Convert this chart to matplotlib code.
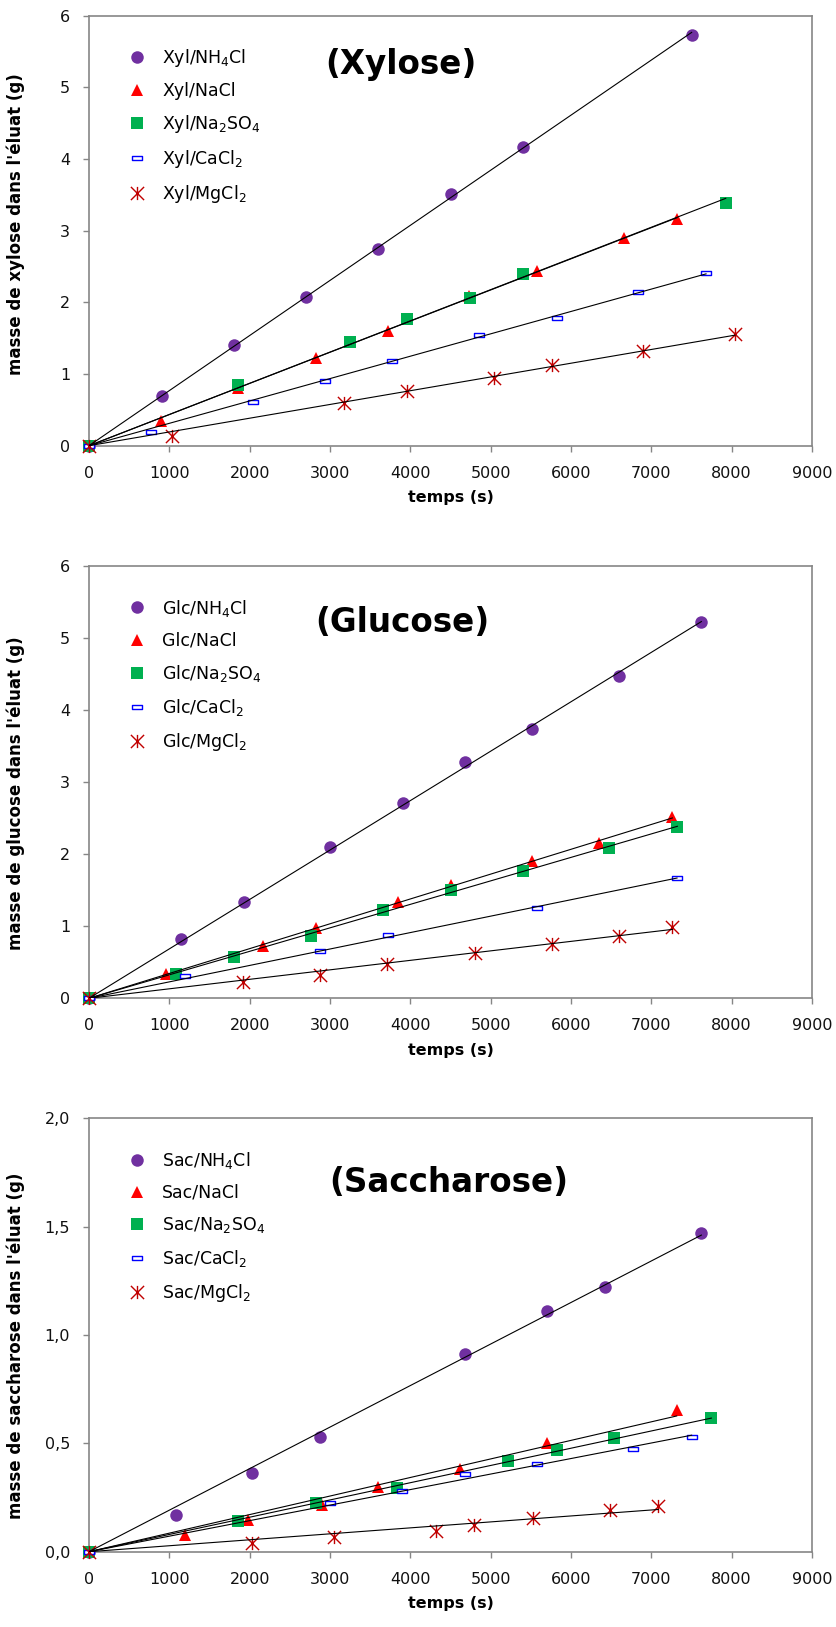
import numpy as np
import matplotlib
matplotlib.use('Agg')
import matplotlib.pyplot as plt
from matplotlib.path import Path

plt.rcParams['font.family'] = ['DejaVu Sans']
plt.rcParams['mathtext.default'] = 'regular'

# temps (s) / masse (g) par sel -- xylose
xyl_nh4cl_t = [0, 905, 1809, 2697, 3602, 4503, 5399, 7502]
xyl_nh4cl_m = [0, 0.70, 1.41, 2.07, 2.75, 3.51, 4.16, 5.73]
xyl_nacl_t = [0, 900, 1850, 2822, 3718, 4735, 5573, 6660, 7320]
xyl_nacl_m = [0, 0.34, 0.80, 1.23, 1.60, 2.09, 2.44, 2.89, 3.16]
xyl_na2so4_t = [0, 1859, 3245, 3963, 4743, 5399, 7926]
xyl_na2so4_m = [0, 0.84, 1.45, 1.77, 2.06, 2.39, 3.38]
xyl_cacl2_t = [0, 772, 2037, 2938, 3772, 4855, 5822, 6838, 7681]
xyl_cacl2_m = [0, 0.195, 0.61, 0.90, 1.18, 1.54, 1.78, 2.15, 2.41]
xyl_mgcl2_t = [0, 1029, 3178, 3955, 5042, 5759, 6900, 8042]
xyl_mgcl2_m = [0, 0.14, 0.60, 0.76, 0.94, 1.12, 1.32, 1.56]

# glucose
glc_nh4cl_t = [0, 1141, 1934, 3000, 3913, 4681, 5519, 6598, 7623]
glc_nh4cl_m = [0, 0.82, 1.34, 2.10, 2.71, 3.28, 3.74, 4.48, 5.22]
glc_nacl_t = [0, 955, 2162, 2826, 3842, 4503, 5519, 6353, 7262]
glc_nacl_m = [0, 0.34, 0.73, 0.98, 1.33, 1.57, 1.91, 2.16, 2.51]
glc_na2so4_t = [0, 1079, 1809, 2760, 3656, 4503, 5399, 6478, 7324]
glc_na2so4_m = [0, 0.34, 0.58, 0.87, 1.22, 1.50, 1.77, 2.09, 2.38]
glc_cacl2_t = [0, 1195, 2876, 3718, 5573, 7320]
glc_cacl2_m = [0, 0.31, 0.65, 0.88, 1.25, 1.665]
glc_mgcl2_t = [0, 1921, 2876, 3714, 4801, 5759, 6598, 7262]
glc_mgcl2_m = [0, 0.23, 0.33, 0.48, 0.63, 0.76, 0.865, 0.99]

# saccharose
sac_nh4cl_t = [0, 1083, 2033, 2876, 4681, 5698, 6428, 7623]
sac_nh4cl_m = [0, 0.168, 0.361, 0.527, 0.914, 1.11, 1.22, 1.47]
sac_nacl_t = [0, 1199, 1983, 2897, 3602, 4618, 5698, 7316]
sac_nacl_m = [0, 0.077, 0.146, 0.215, 0.30, 0.38, 0.502, 0.653]
sac_na2so4_t = [0, 1859, 2822, 3839, 5220, 5822, 6535, 7747]
sac_na2so4_m = [0, 0.143, 0.223, 0.292, 0.418, 0.469, 0.525, 0.615]
sac_cacl2_t = [0, 3000, 3892, 4681, 5573, 6768, 7502]
sac_cacl2_m = [0, 0.223, 0.28, 0.358, 0.404, 0.472, 0.528]
sac_mgcl2_t = [0, 2033, 3054, 4320, 4797, 5523, 6486, 7087]
sac_mgcl2_m = [0, 0.041, 0.069, 0.095, 0.123, 0.154, 0.192, 0.212]

sels = ['NH$_4$Cl', 'NaCl', 'Na$_2$SO$_4$', 'CaCl$_2$', 'MgCl$_2$']
x_ticks = [0, 1000, 2000, 3000, 4000, 5000, 6000, 7000, 8000, 9000]
y_ticks_xg = [0, 1, 2, 3, 4, 5, 6]
y_labels_xg = ['0', '1', '2', '3', '4', '5', '6']
y_ticks_sac = [0, 0.5, 1.0, 1.5, 2.0]
y_labels_sac = ['0,0', '0,5', '1,0', '1,5', '2,0']

# marqueurs style tableur
rect_mk = Path([(-1, -0.45), (1, -0.45), (1, 0.45), (-1, 0.45), (-1, -0.45)],
               [Path.MOVETO, Path.LINETO, Path.LINETO, Path.LINETO, Path.CLOSEPOLY])
star_mk = Path([(-1, -1), (1, 1), (-1, 1), (1, -1), (0, -1), (0, 1)],
               [Path.MOVETO, Path.LINETO, Path.MOVETO, Path.LINETO, Path.MOVETO, Path.LINETO])
styles = [
    dict(marker='o', mec='#7030A0', mfc='#7030A0', ms=9, mew=0),
    dict(marker='^', mec='#FF0000', mfc='#FF0000', ms=9, mew=0),
    dict(marker='s', mec='#00B050', mfc='#00B050', ms=8.3, mew=0),
    dict(marker=rect_mk, mec='#0000FF', mfc='white', ms=6.5, mew=1.0),
    dict(marker=star_mk, mec='#C00000', ms=9.5, mew=1.0, fillstyle='none'),
]

W, H = 837, 1627
fig = plt.figure(figsize=(W / 100, H / 100), dpi=100)
gris = '#868686'


def panel(top, bottom, prefix, series, title, title_xy, ylabel, ylab_y,
          yticks, ylabels, ymax):
    ax = fig.add_axes([89 / W, 1 - bottom / H, (812 - 89) / W, (bottom - top) / H])
    handles = []
    for (t, m), sel, st in zip(series, sels, styles):
        t = np.array(t, float)
        m = np.array(m, float)
        h, = ax.plot(t, m, linestyle='none', zorder=2, clip_on=False, **st)
        handles.append(h)
        # droite de tendance passant par l'origine
        pente = np.sum(t * m) / np.sum(t * t)
        tt = np.array([0, t.max()])
        ax.plot(tt, pente * tt, color='black', lw=0.8, zorder=3)
    ax.set_xlim(0, 9000)
    ax.set_ylim(0, ymax)
    ax.set_xticks(x_ticks)
    ax.set_xticklabels([str(v) for v in x_ticks])
    ax.set_yticks(yticks)
    ax.set_yticklabels(ylabels)
    for s in ax.spines.values():
        s.set_color(gris)
        s.set_linewidth(1.2)
        s.set_zorder(1)
    ax.tick_params(direction='out', length=4.5, width=1, color=gris,
                   labelsize=11.5, labelcolor='#111111')
    ax.tick_params(axis='x', pad=10)
    ax.tick_params(axis='y', pad=9)
    ax.set_xlabel('temps (s)', fontsize=11.5, fontweight='bold')
    ax.xaxis.set_label_coords(0.5, -0.103)
    ax.set_ylabel(ylabel, fontsize=12, fontweight='bold')
    ax.yaxis.set_label_coords(-0.0885, ylab_y)
    ax.text(title_xy[0], title_xy[1], title, transform=ax.transAxes,
            ha='center', va='center', fontsize=23.5, fontweight='bold')
    ax.legend(handles, [prefix + '/' + s for s in sels], loc='upper left',
              bbox_to_anchor=(0.0544, 0.927), frameon=False, fontsize=12.5,
              handlelength=1.0, handletextpad=0.94, labelspacing=0.75,
              borderpad=0, borderaxespad=0)
    return ax


panel(15.5, 445.7, 'Xyl',
      [(xyl_nh4cl_t, xyl_nh4cl_m), (xyl_nacl_t, xyl_nacl_m), (xyl_na2so4_t, xyl_na2so4_m),
       (xyl_cacl2_t, xyl_cacl2_m), (xyl_mgcl2_t, xyl_mgcl2_m)],
      '(Xylose)', (0.432, 0.887), "masse de xylose dans l'éluat (g)", 0.515,
      y_ticks_xg, y_labels_xg, 6)

panel(566, 998.3, 'Glc',
      [(glc_nh4cl_t, glc_nh4cl_m), (glc_nacl_t, glc_nacl_m), (glc_na2so4_t, glc_na2so4_m),
       (glc_cacl2_t, glc_cacl2_m), (glc_mgcl2_t, glc_mgcl2_m)],
      '(Glucose)', (0.4336, 0.870), "masse de glucose dans l'éluat (g)", 0.475,
      y_ticks_xg, y_labels_xg, 6)

panel(1118.3, 1551.7, 'Sac',
      [(sac_nh4cl_t, sac_nh4cl_m), (sac_nacl_t, sac_nacl_m), (sac_na2so4_t, sac_na2so4_m),
       (sac_cacl2_t, sac_cacl2_m), (sac_mgcl2_t, sac_mgcl2_m)],
      '(Saccharose)', (0.498, 0.851), "masse de saccharose dans l'éluat (g)", 0.475,
      y_ticks_sac, y_labels_sac, 2.0)

fig.savefig('out.png', dpi=100)
